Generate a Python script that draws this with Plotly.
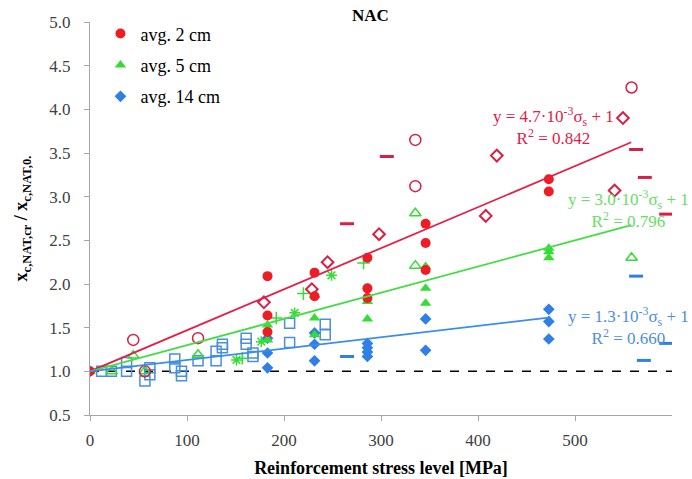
import plotly.graph_objects as go

# ---------------- data ----------------
# avg. 2 cm (red filled circles)
red_x = [0, 183, 183, 183, 231.5, 231.5, 286, 286, 286, 346, 346, 346, 473, 473]
red_y = [1.0, 2.09, 1.64, 1.45, 2.13, 1.86, 2.30, 1.95, 1.84, 2.69, 2.47, 2.16, 3.20, 3.06]
# avg. 5 cm (green filled triangles)
grn_x = [0, 183, 183, 231.5, 231.5, 231.5, 286, 286, 346, 346, 346, 473, 473, 473]
grn_y = [1.0, 1.53, 1.36, 1.87, 1.61, 1.42, 1.80, 1.60, 2.20, 1.95, 1.78, 2.41, 2.37, 2.30]
# avg. 14 cm (blue filled diamonds)
blu_x = [0, 183, 183, 183, 231.5, 231.5, 231.5, 286, 286, 286, 286, 346, 346, 473, 473, 473]
blu_y = [1.0, 1.38, 1.21, 1.04, 1.44, 1.31, 1.12, 1.32, 1.27, 1.22, 1.17, 1.60, 1.24, 1.71, 1.57, 1.37]

# other red series
red_oc_x = [44.6, 56.6, 111.4, 335.4, 335.4, 558.3]
red_oc_y = [1.36, 1.00, 1.38, 3.65, 3.12, 4.25]
red_od_x = [179.3, 228.7, 244.9, 298, 408, 419.4, 540.8, 549.4]
red_od_y = [1.79, 1.94, 2.25, 2.57, 2.78, 3.47, 3.07, 3.90]
red_dash_x = [265, 306, 563, 572, 594]
red_dash_y = [2.69, 3.46, 3.54, 3.22, 2.80]

# other green series
grn_ot_x = [22.3, 44.6, 56.6, 111.4, 335.4, 335.4, 558.3]
grn_ot_y = [1.00, 1.18, 1.00, 1.19, 2.81, 2.21, 2.30]
grn_plus_x = [157, 192, 220, 282]
grn_plus_y = [1.15, 1.61, 1.89, 2.24]
grn_star_x = [151, 176.6, 211, 249]
grn_star_y = [1.13, 1.34, 1.67, 2.10]

# other blue series
blu_sq_x = [12, 22, 37.7, 37.7, 56.6, 61.7, 61.7, 87.4, 87.4, 94.3, 94.3, 111.4,
            130, 130, 136.5, 136.5, 161, 161, 168, 168, 205.8, 205.8, 242.5, 242.5]
blu_sq_y = [1.00, 1.00, 1.10, 1.00, 0.89, 1.04, 0.96, 1.14, 1.04, 1.00, 0.95, 1.12,
            1.23, 1.12, 1.31, 1.27, 1.38, 1.31, 1.21, 1.17, 1.55, 1.33, 1.54, 1.42]
blu_dash_x = [265, 563, 571, 594]
blu_dash_y = [1.17, 2.09, 1.125, 1.32]

# trend lines: slope (per MPa), end of fitted range
trend_slopes = [4.7e-3, 3.0e-3, 1.3e-3]
trend_xmax = [558, 558, 475]
trend_labels = ["y = 4.7·10<sup>-3</sup>σ<sub>s</sub> + 1<br>R<sup>2</sup> = 0.842",
                "y = 3.0·10<sup>-3</sup>σ<sub>s</sub> + 1<br>R<sup>2</sup> = 0.796",
                "y = 1.3·10<sup>-3</sup>σ<sub>s</sub> + 1<br>R<sup>2</sup> = 0.660"]
ref_x = [0, 600]
ref_y = [1.0, 1.0]

x_ticks = [0, 100, 200, 300, 400, 500]
y_ticks = [0.5, 1.0, 1.5, 2.0, 2.5, 3.0, 3.5, 4.0, 4.5, 5.0]

# ---------------- style ----------------
RED = "#ee1c25"
RED2 = "#d81f45"
GRN = "#33dd33"
BLU = "#2f7fe6"
BLU2 = "#4a8fdc"
FONT = "Liberation Serif"

fig = go.Figure()

# reference dashed line
fig.add_trace(go.Scatter(x=ref_x, y=ref_y, mode="lines", showlegend=False,
                         line=dict(color="black", width=1.5, dash="dash"), hoverinfo="skip"))

# open / secondary markers
fig.add_trace(go.Scatter(x=blu_sq_x, y=blu_sq_y, mode="markers", showlegend=False,
                         marker=dict(symbol="square-open", size=10, color=BLU2, line=dict(width=1.5))))
fig.add_trace(go.Scatter(x=blu_dash_x, y=blu_dash_y, mode="markers", showlegend=False,
                         marker=dict(symbol="line-ew-open", size=10, color=BLU, line=dict(width=3, color=BLU))))
fig.add_trace(go.Scatter(x=grn_ot_x, y=grn_ot_y, mode="markers", showlegend=False,
                         marker=dict(symbol="triangle-up-open", size=10, color=GRN, line=dict(width=1.5))))
fig.add_trace(go.Scatter(x=grn_plus_x, y=grn_plus_y, mode="markers", showlegend=False,
                         marker=dict(symbol="cross-thin-open", size=9, color=GRN, line=dict(width=1.5, color=GRN))))
fig.add_trace(go.Scatter(x=grn_star_x, y=grn_star_y, mode="markers", showlegend=False,
                         marker=dict(symbol="asterisk-open", size=9, color=GRN, line=dict(width=1.5, color=GRN))))
fig.add_trace(go.Scatter(x=red_oc_x, y=red_oc_y, mode="markers", showlegend=False,
                         marker=dict(symbol="circle-open", size=11, color=RED2, line=dict(width=1.5))))
fig.add_trace(go.Scatter(x=red_od_x, y=red_od_y, mode="markers", showlegend=False,
                         marker=dict(symbol="diamond-open", size=9, color=RED2, line=dict(width=2))))
fig.add_trace(go.Scatter(x=red_dash_x, y=red_dash_y, mode="markers", showlegend=False,
                         marker=dict(symbol="line-ew-open", size=10, color=RED2, line=dict(width=3, color=RED2))))

# main series (legend)
fig.add_trace(go.Scatter(x=blu_x, y=blu_y, mode="markers", name="avg. 14 cm", legendrank=3,
                         legendgroup="c", marker=dict(symbol="diamond", size=9, color=BLU)))
fig.add_trace(go.Scatter(x=grn_x, y=grn_y, mode="markers", name="avg. 5 cm", legendrank=2,
                         legendgroup="b", marker=dict(symbol="triangle-up", size=10, color=GRN)))
fig.add_trace(go.Scatter(x=red_x, y=red_y, mode="markers", name="avg. 2 cm", legendrank=1,
                         legendgroup="a", marker=dict(symbol="circle", size=10, color=RED)))

# trend lines
line_cols = ["#e2204a", "#44dd44", "#3a8ee6"]
for s, xm, c in zip(trend_slopes, trend_xmax, line_cols):
    xs = [0, xm]
    ys = [1 + s * v for v in xs]
    fig.add_trace(go.Scatter(x=xs, y=ys, mode="lines", showlegend=False,
                             line=dict(color=c, width=1.8), hoverinfo="skip"))

# equation labels (paper coordinates)
text_cols = ["#e0204a", "#66dd66", "#4a90e2"]
text_pos = [(0.797, 0.735), (0.925, 0.524), (0.925, 0.226)]
for (px, py), t, c in zip(text_pos, trend_labels, text_cols):
    fig.add_annotation(x=px, y=py, xref="paper", yref="paper", text=t, showarrow=False,
                       font=dict(family=FONT, size=17, color=c), align="center",
                       xanchor="center", yanchor="middle")

fig.add_annotation(x=(370 - 90) / 582, y=1 + (22 - 15) / 393, xref="paper", yref="paper",
                   text="<b>NAC</b>", showarrow=False, yanchor="middle",
                   font=dict(family=FONT, size=17, color="black"))

axis_common = dict(showline=True, linecolor="#a6a6a6", linewidth=1.2, ticks="outside",
                   tickcolor="#a6a6a6", ticklen=5, showgrid=False, zeroline=False,
                   automargin=False,
                   tickfont=dict(family=FONT, size=17, color="#404040"))

fig.update_layout(
    width=692, height=479,
    margin=dict(l=90, r=20, t=22, b=64),
    plot_bgcolor="white", paper_bgcolor="white",
    xaxis=dict(range=[0, 600], tickvals=x_ticks, ticklabelstandoff=4, **axis_common,
               title=dict(text="<b>Reinforcement stress level [MPa]</b>",
                          font=dict(family=FONT, size=18, color="black"), standoff=12)),
    yaxis=dict(range=[0.5, 5.0], tickvals=y_ticks, tickformat=".1f", ticklabelstandoff=10,
               **axis_common,
               title=dict(text="<b>x<sub>c,NAT,cr</sub> / x<sub>c,NAT,0.</sub></b>",
                          font=dict(family=FONT, size=18, color="black"), standoff=16)),
    legend=dict(x=0.018, y=1.017, xanchor="left", yanchor="top", bgcolor="rgba(0,0,0,0)",
                font=dict(family=FONT, size=18, color="black"), traceorder="grouped",
                tracegroupgap=5, itemwidth=30),
    showlegend=True,
)

fig.write_html("out.html")
